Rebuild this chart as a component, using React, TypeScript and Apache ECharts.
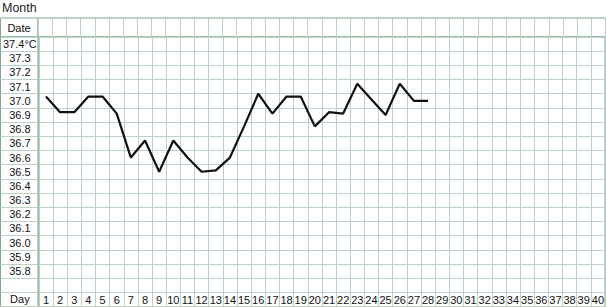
import React, { useEffect, useRef } from "react";
import * as echarts from "echarts";

const days: string[] = Array.from({ length: 40 }, (_, i) => String(i + 1));
const rowLabels: string[] = [
  "37.4°C", "37.3", "37.2", "37.1", "37.0", "36.9", "36.8", "36.7", "36.6", "36.5",
  "36.4", "36.3", "36.2", "36.1", "36.0", "35.9", "35.8", "", "Day",
];
const temps: number[] = [
  37.03, 36.92, 36.92, 37.03, 37.03, 36.91, 36.6, 36.72, 36.5, 36.72,
  36.6, 36.5, 36.51, 36.6, 36.82, 37.05, 36.91, 37.03, 37.03, 36.82,
  36.92, 36.91, 37.12, 37.01, 36.9, 37.12, 37.0, 37.0,
];

const INNER = "#bcd2c3";
const BORDER = "#80a88c";
const FONT = "Liberation Sans, Arial, sans-serif";

export default function App() {
  const ref = useRef<HTMLDivElement>(null);
  useEffect(() => {
    if (!ref.current) return;
    const chart = echarts.init(ref.current, undefined, { renderer: "svg" });
    const gridBase = { show: true, borderColor: BORDER, borderWidth: 1, backgroundColor: "transparent" };
    const hiddenCat = (gi: number) => ({ type: "category", gridIndex: gi, data: [""], show: false });
    chart.setOption({
      animation: false,
      title: {
        text: "Month",
        left: 2,
        top: 1,
        padding: 0,
        textStyle: { fontSize: 12.5, fontWeight: "normal", color: "#222", fontFamily: FONT },
      },
      grid: [
        { ...gridBase, left: 0.5, top: 18, width: 37.5, height: 19 },
        { ...gridBase, left: 38, top: 18, right: 1.5, height: 19 },
        { ...gridBase, left: 0.5, top: 37, width: 37.5, bottom: 0.5 },
        { ...gridBase, left: 38, top: 37, right: 1.5, bottom: 0.5 },
      ],
      xAxis: [
        hiddenCat(0),
        {
          type: "category",
          gridIndex: 1,
          data: days,
          boundaryGap: true,
          axisLine: { show: false },
          axisTick: { show: false },
          axisLabel: { show: false },
          splitLine: { show: true, interval: 0, lineStyle: { color: INNER, width: 1 } },
        },
        hiddenCat(2),
        {
          type: "category",
          gridIndex: 3,
          data: days,
          boundaryGap: true,
          axisLine: { show: false },
          axisTick: { show: false },
          axisLabel: {
            inside: true,
            interval: 0,
            margin: 7,
            verticalAlign: "middle",
            fontSize: 11,
            color: "#111",
            fontFamily: FONT,
          },
          splitLine: { show: true, interval: 0, lineStyle: { color: INNER, width: 1 } },
        },
      ],
      yAxis: [
        hiddenCat(0),
        {
          type: "category",
          gridIndex: 1,
          data: ["Date"],
          axisLine: { show: false },
          axisTick: { show: false },
          splitLine: { show: false },
          axisLabel: { margin: 19, align: "center", fontSize: 11, color: "#111", fontFamily: FONT },
        },
        {
          type: "category",
          gridIndex: 2,
          data: rowLabels,
          inverse: true,
          axisLine: { show: false },
          axisTick: { show: false },
          axisLabel: { show: false },
          splitLine: { show: true, interval: 0, lineStyle: { color: INNER, width: 1 } },
        },
        {
          type: "category",
          gridIndex: 3,
          data: rowLabels,
          inverse: true,
          axisLine: { show: false },
          axisTick: { show: false },
          axisLabel: { margin: 19, align: "center", interval: 0, fontSize: 11, color: "#111", fontFamily: FONT },
          splitLine: { show: true, interval: 0, lineStyle: { color: INNER, width: 1 } },
        },
        {
          type: "value",
          gridIndex: 3,
          min: 35.55,
          max: 37.45,
          show: false,
          splitLine: { show: false },
        },
      ],
      series: [
        {
          type: "line",
          xAxisIndex: 3,
          yAxisIndex: 4,
          data: temps,
          symbol: "none",
          lineStyle: { color: "#111", width: 2.2 },
          z: 10,
        },
      ],
    });
    return () => chart.dispose();
  }, []);
  return (
    <div
      ref={ref}
      style={{ position: "absolute", left: 0, top: 0, width: 607, height: 307 }}
    />
  );
}
